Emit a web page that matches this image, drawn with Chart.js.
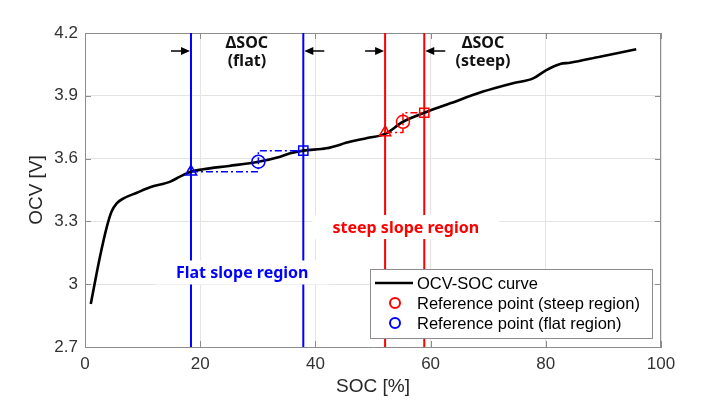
<!DOCTYPE html>
<html>
<head>
<meta charset="utf-8">
<script src="https://cdn.jsdelivr.net/npm/chart.js@4/dist/chart.umd.min.js"></script>
<style>
  html, body { margin: 0; padding: 0; background: #fff; }
  #wrap { width: 706px; height: 415px; position: relative; }
</style>
</head>
<body>
<div id="wrap"><canvas id="ocv-chart"></canvas></div>
<script>
// OCV-SOC curve
const socData = [1, 2.6, 3.8, 4.6, 5.5, 6.7, 9, 11.3, 14.8, 16.5, 18.4, 20.5, 25, 30.1, 33.9, 35.6, 37.9,
    41.9, 46, 49, 52.1, 55.2, 58.9, 63.4, 69.1, 74.3, 77.8, 80.1, 82.5, 84.2, 89.4, 95.7];
const ocvData = [2.905, 3.131, 3.275, 3.346, 3.386, 3.41, 3.437, 3.463, 3.49, 3.514, 3.537, 3.549, 3.565, 3.585, 3.609, 3.625, 3.638,
    3.649, 3.68, 3.698, 3.718, 3.776, 3.819, 3.864, 3.92, 3.96, 3.983, 4.023, 4.052, 4.058, 4.087, 4.122];

const xTicks = [0, 20, 40, 60, 80, 100];
const yTicks = [2.7, 3, 3.3, 3.6, 3.9, 4.2];

// region boundaries (SOC)
const flatBounds = [18.4, 37.9];
const steepBounds = [52.1, 58.9];

// reference points: triangle, circle, square
const flatRefSoc = [18.4, 30.1, 37.9];
const flatRefOcv = [3.537, 3.585, 3.638];
const steepRefSoc = [52.1, 55.2, 58.9];
const steepRefOcv = [3.725, 3.776, 3.819];
const refShapes = ['triangle', 'circle', 'rect'];

const legendLabels = ['OCV-SOC curve', 'Reference point (steep region)', 'Reference point (flat region)'];

const BLUE = '#0000ff';
const RED = '#ff0000';
const AXIS_FONT = "'Liberation Sans', Arial, sans-serif";
const NOTE_FONT = "'Noto Sans', sans-serif";

const yMin = yTicks[0], yMax = yTicks[yTicks.length - 1];

function boundLine(soc, color) {
    return {
        data: [{x: soc, y: yMin}, {x: soc, y: yMax}],
        borderColor: color, borderWidth: 2, pointRadius: 0, order: 2
    };
}

// step path: triangle -> circle column -> square row
function stepPath(soc, ocv) {
    return [{x: soc[0], y: ocv[0]}, {x: soc[1], y: ocv[0]}, {x: soc[1], y: ocv[2]}, {x: soc[2], y: ocv[2]}];
}

function refMarkers(soc, ocv, color) {
    return {
        data: soc.map((s, i) => ({x: s, y: ocv[i]})),
        showLine: false, pointStyle: refShapes, pointRadius: 6.5, pointBorderWidth: 1.5,
        pointBorderColor: color, pointBackgroundColor: 'rgba(0,0,0,0)', order: 0
    };
}

const datasets = [
    {
        data: socData.map((s, i) => ({x: s, y: ocvData[i]})),
        borderColor: '#000', borderWidth: 2.6, pointRadius: 0,
        cubicInterpolationMode: 'monotone', order: 1
    },
    ...flatBounds.map(b => boundLine(b, BLUE)),
    ...steepBounds.map(b => boundLine(b, RED)),
    {data: stepPath(flatRefSoc, flatRefOcv), borderColor: BLUE, borderWidth: 1.5, borderDash: [7, 3, 2, 3], pointRadius: 0, order: 0},
    {data: stepPath(steepRefSoc, steepRefOcv), borderColor: RED, borderWidth: 1.5, borderDash: [7, 3, 2, 3], pointRadius: 0, order: 0},
    refMarkers(flatRefSoc, flatRefOcv, BLUE),
    refMarkers(steepRefSoc, steepRefOcv, RED)
];

function arrow(ctx, x0, x1, y) {
    const d = Math.sign(x1 - x0);
    ctx.beginPath();
    ctx.moveTo(x0, y);
    ctx.lineTo(x1 - d * 4, y);
    ctx.stroke();
    ctx.beginPath();
    ctx.moveTo(x1, y);
    ctx.lineTo(x1 - d * 9, y - 4);
    ctx.lineTo(x1 - d * 9, y + 4);
    ctx.closePath();
    ctx.fill();
}

function boxedLabel(ctx, text, cx, cy, color) {
    ctx.font = `bold 16px ${NOTE_FONT}`;
    const w = ctx.measureText(text).width;
    ctx.fillStyle = '#fff';
    ctx.fillRect(cx - w / 2 - 20, cy - 12, w + 40, 24);
    ctx.fillStyle = color;
    ctx.textAlign = 'center';
    ctx.textBaseline = 'middle';
    ctx.fillText(text, cx, cy + 1);
}

const decorPlugin = {
    id: 'decor',
    beforeDatasetsDraw(chart) {
        const {ctx, chartArea: a, scales: {x, y}} = chart;
        ctx.save();
        ctx.strokeStyle = '#8c8c8c';
        ctx.lineWidth = 1;
        ctx.beginPath();
        ctx.moveTo(a.left, a.top + 0.5);
        ctx.lineTo(a.right, a.top + 0.5);
        ctx.moveTo(a.right - 0.5, a.top);
        ctx.lineTo(a.right - 0.5, a.bottom);
        // inner ticks
        xTicks.forEach(v => {
            const px = Math.round(x.getPixelForValue(v)) + 0.5;
            ctx.moveTo(px, a.bottom); ctx.lineTo(px, a.bottom - 6);
            ctx.moveTo(px, a.top); ctx.lineTo(px, a.top + 6);
        });
        yTicks.forEach(v => {
            const py = Math.round(y.getPixelForValue(v)) + 0.5;
            ctx.moveTo(a.left, py); ctx.lineTo(a.left + 6, py);
            ctx.moveTo(a.right, py); ctx.lineTo(a.right - 6, py);
        });
        ctx.stroke();
        ctx.restore();
    },
    afterDatasetsDraw(chart) {
        const {ctx, scales: {x, y}} = chart;
        ctx.save();

        // width arrows at the top
        ctx.strokeStyle = '#000';
        ctx.fillStyle = '#000';
        ctx.lineWidth = 1.5;
        const ay = y.getPixelForValue(4.114);
        [flatBounds, steepBounds].forEach(([b0, b1]) => {
            const p0 = x.getPixelForValue(b0), p1 = x.getPixelForValue(b1);
            arrow(ctx, p0 - 20, p0 - 1, ay);
            arrow(ctx, p1 + 21, p1 + 1, ay);
        });

        ctx.fillStyle = '#111';
        ctx.font = `bold 16px ${NOTE_FONT}`;
        ctx.textAlign = 'center';
        ctx.textBaseline = 'middle';
        ctx.fillText('ΔSOC', x.getPixelForValue(28.1), y.getPixelForValue(4.151));
        ctx.fillText('(flat)', x.getPixelForValue(28.1), y.getPixelForValue(4.062));
        ctx.fillText('ΔSOC', x.getPixelForValue(69.1), y.getPixelForValue(4.151));
        ctx.fillText('(steep)', x.getPixelForValue(69.1), y.getPixelForValue(4.062));

        boxedLabel(ctx, 'steep slope region', x.getPixelForValue(55.7), y.getPixelForValue(3.273), RED);
        boxedLabel(ctx, 'Flat slope region', x.getPixelForValue(27.3), y.getPixelForValue(3.056), BLUE);

        // legend box
        const lx = 370, ly = 269, lw = 282, lh = 69;
        ctx.fillStyle = '#fff';
        ctx.fillRect(lx, ly, lw, lh);
        ctx.strokeStyle = '#8c8c8c';
        ctx.lineWidth = 1;
        ctx.strokeRect(lx + 0.5, ly + 0.5, lw, lh);
        ctx.font = `16.5px ${AXIS_FONT}`;
        ctx.textAlign = 'left';
        legendLabels.forEach((label, i) => {
            const ry = ly + 14 + i * 20;
            if (i === 0) {
                ctx.strokeStyle = '#000';
                ctx.lineWidth = 2.6;
                ctx.beginPath();
                ctx.moveTo(lx + 5, ry);
                ctx.lineTo(lx + 43, ry);
                ctx.stroke();
            } else {
                ctx.strokeStyle = i === 1 ? RED : BLUE;
                ctx.lineWidth = 2;
                ctx.beginPath();
                ctx.arc(lx + 25, ry, 5, 0, Math.PI * 2);
                ctx.stroke();
            }
            ctx.fillStyle = '#000';
            ctx.fillText(label, lx + 47, ry + 1);
        });
        ctx.restore();
    }
};

const tickFont = {family: AXIS_FONT, size: 17};
const titleFont = {family: AXIS_FONT, size: 19};

new Chart(document.querySelector('#ocv-chart'), {
    type: 'line',
    data: {datasets: datasets},
    options: {
        responsive: true,
        maintainAspectRatio: false,
        animation: false,
        layout: {padding: {top: 33, right: 45, left: 0, bottom: 0}},
        plugins: {legend: {display: false}, tooltip: {enabled: false}},
        scales: {
            x: {
                type: 'linear', min: 0, max: 100,
                afterBuildTicks: s => { s.ticks = xTicks.map(v => ({value: v})); },
                afterFit: s => { s.height = 68; },
                ticks: {font: tickFont, color: '#333', padding: 7, maxRotation: 0, autoSkip: false},
                grid: {color: '#e4e4e4', drawTicks: false},
                border: {color: '#8c8c8c', width: 1},
                title: {display: true, text: 'SOC [%]', font: titleFont, color: '#262626', padding: {top: 0, bottom: 17}}
            },
            y: {
                type: 'linear', min: yMin, max: yMax,
                afterBuildTicks: s => { s.ticks = yTicks.map(v => ({value: v})); },
                afterFit: s => { s.width = 85; },
                ticks: {font: tickFont, color: '#333', padding: 7, callback: v => String(+v.toFixed(1))},
                grid: {color: '#e4e4e4', drawTicks: false},
                border: {color: '#8c8c8c', width: 1},
                title: {display: true, text: 'OCV [V]', font: titleFont, color: '#262626', padding: {top: 25, bottom: 0}}
            }
        }
    },
    plugins: [decorPlugin]
});
</script>
</body>
</html>
